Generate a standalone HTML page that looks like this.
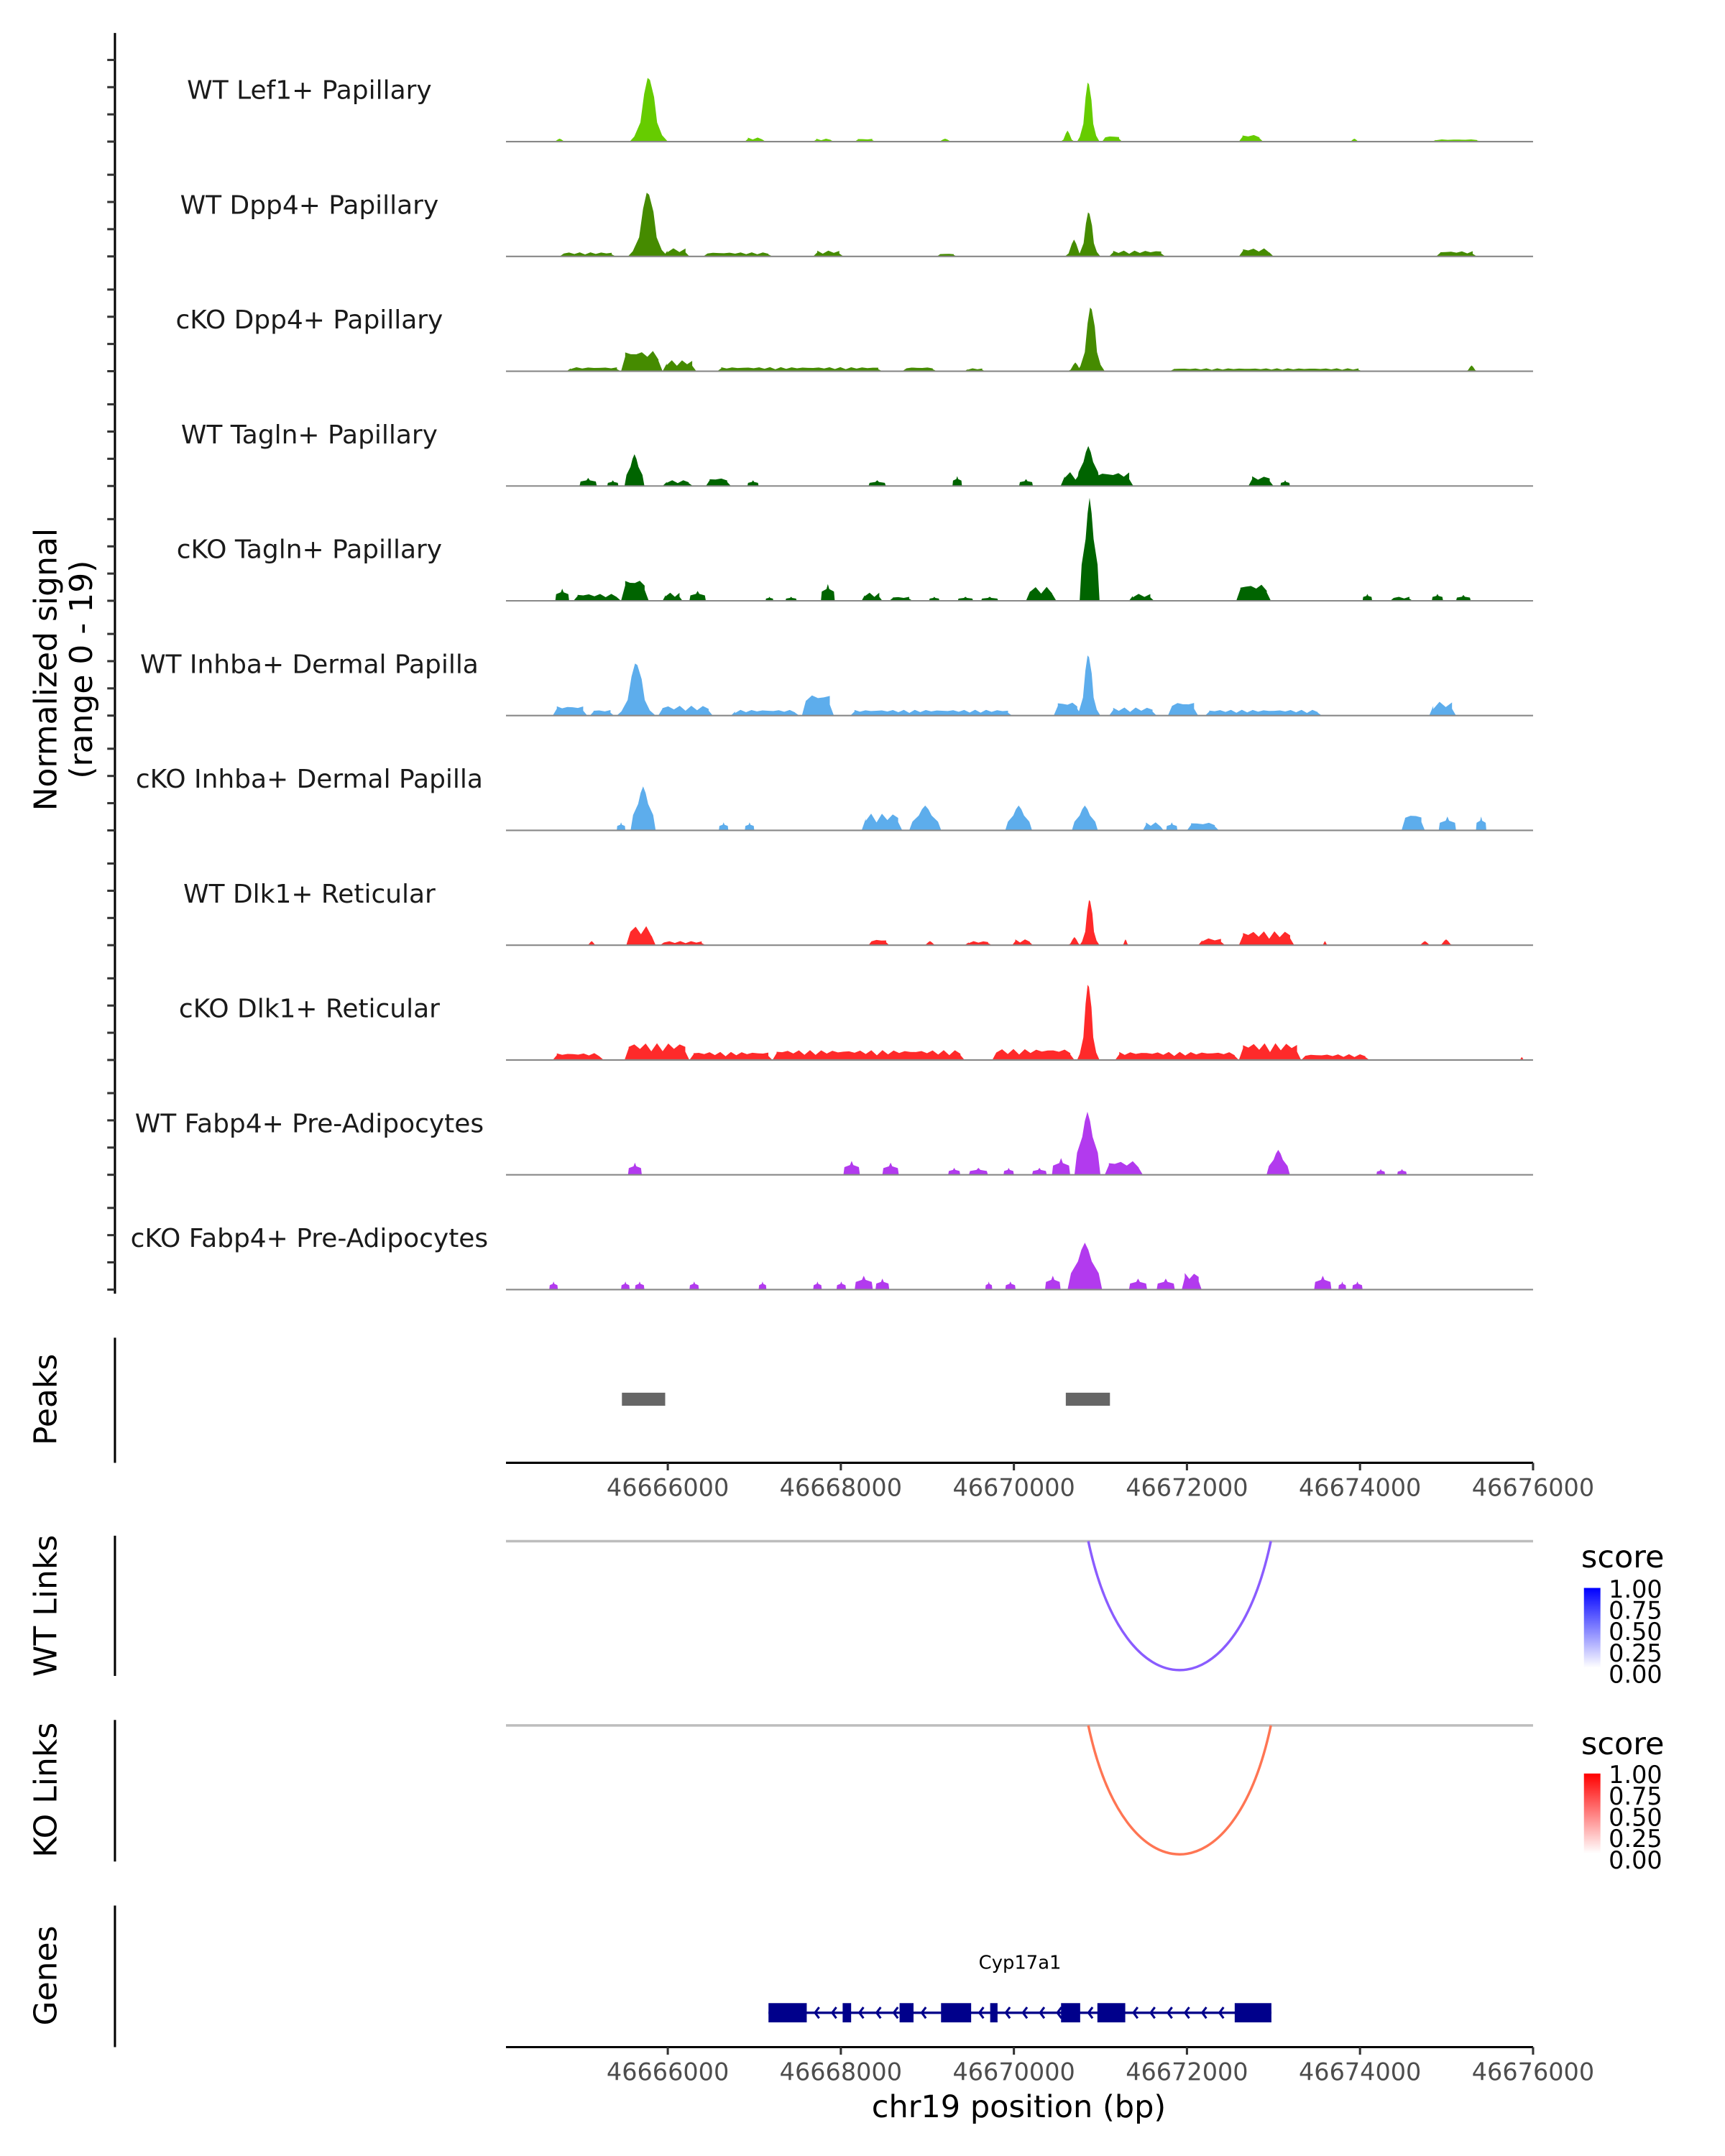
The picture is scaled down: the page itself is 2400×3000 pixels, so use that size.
<!DOCTYPE html>
<html><head><meta charset="utf-8"><style>
html,body{margin:0;padding:0;background:#fff;}
svg{display:block;font-family:"DejaVu Sans","Liberation Sans",sans-serif;}
</style></head><body>
<svg id="chart" xmlns="http://www.w3.org/2000/svg" width="2400" height="3000" viewBox="0 0 1254.6 1568.2" preserveAspectRatio="none">
  <g id="tracks"></g>
  <line x1="83.6" y1="24" x2="83.6" y2="941" stroke="#000" stroke-width="1.6"/>
  <g id="yticks"></g>
  <text transform="translate(41,487) rotate(-90)" text-anchor="middle" font-size="23">Normalized signal</text>
  <text transform="translate(67,487) rotate(-90)" text-anchor="middle" font-size="23">(range 0 - 19)</text>

  <line x1="83.6" y1="973" x2="83.6" y2="1064" stroke="#000" stroke-width="1.6"/>
  <text transform="translate(41,1018) rotate(-90)" text-anchor="middle" font-size="23">Peaks</text>
  <g id="peaks"></g>
  <g id="xaxis1"></g>

  <line x1="83.6" y1="1117" x2="83.6" y2="1219" stroke="#000" stroke-width="1.6"/>
  <text transform="translate(41,1168) rotate(-90)" text-anchor="middle" font-size="23">WT Links</text>
  <g id="wtlinks"></g>

  <line x1="83.6" y1="1251" x2="83.6" y2="1354" stroke="#000" stroke-width="1.6"/>
  <text transform="translate(41,1302) rotate(-90)" text-anchor="middle" font-size="23">KO Links</text>
  <g id="kolinks"></g>

  <defs>
    <linearGradient id="gradBlue" x1="0" y1="1" x2="0" y2="0">
      <stop offset="0" stop-color="#ffffff"/><stop offset="1" stop-color="#0000ff"/>
    </linearGradient>
    <linearGradient id="gradRed" x1="0" y1="1" x2="0" y2="0">
      <stop offset="0" stop-color="#ffffff"/><stop offset="1" stop-color="#ff0000"/>
    </linearGradient>
  </defs>
  <g>
    <text x="1150" y="1140" font-size="22.5">score</text>
    <rect x="1152" y="1155" width="12" height="58" fill="url(#gradBlue)"/>
    <g font-size="17.5">
      <text x="1170" y="1162">1.00</text><text x="1170" y="1177.5">0.75</text><text x="1170" y="1193">0.50</text><text x="1170" y="1208.5">0.25</text><text x="1170" y="1224">0.00</text>
    </g>
  </g>
  <g>
    <text x="1150" y="1276" font-size="22.5">score</text>
    <rect x="1152" y="1290" width="12" height="58" fill="url(#gradRed)"/>
    <g font-size="17.5">
      <text x="1170" y="1297">1.00</text><text x="1170" y="1312.5">0.75</text><text x="1170" y="1328">0.50</text><text x="1170" y="1343.5">0.25</text><text x="1170" y="1359">0.00</text>
    </g>
  </g>

  <line x1="83.6" y1="1386" x2="83.6" y2="1489" stroke="#000" stroke-width="1.6"/>
  <text transform="translate(41,1437) rotate(-90)" text-anchor="middle" font-size="23">Genes</text>
  <g id="genes"></g>
  <g id="xaxis2"></g>
  <text x="741" y="1540" text-anchor="middle" font-size="22.5">chr19 position (bp)</text>
</svg>
<script>
// ---- data (positions in kb, signal 0-19) ----
const trackNames = ["WT Lef1+ Papillary","WT Dpp4+ Papillary","cKO Dpp4+ Papillary","WT Tagln+ Papillary","cKO Tagln+ Papillary","WT Inhba+ Dermal Papilla","cKO Inhba+ Dermal Papilla","WT Dlk1+ Reticular","cKO Dlk1+ Reticular","WT Fabp4+ Pre-Adipocytes","cKO Fabp4+ Pre-Adipocytes"];
const trackColors = ["#66cc00","#458b00","#458b00","#006400","#006400","#5dadec","#5dadec","#ff2a2a","#ff2a2a","#b23aee","#b23aee"];
const trackStyles = ["hump","hump","hump","block","block","hump","block","hump","hump","block","block"];
const sigLef1 = [[46664.67,46664.83,0.5],[46665.56,46666.00,11],[46666.89,46667.13,0.7],[46667.68,46667.92,0.5],[46668.16,46668.40,0.5],[46669.11,46669.30,0.5],[46670.54,46670.70,1.9],[46670.73,46670.99,10.2],[46671.02,46671.25,1],[46672.60,46672.88,1.2],[46673.87,46674.00,0.5],[46674.83,46675.40,0.4]];
const sigDpp4WT = [[46664.75,46665.40,0.7],[46665.54,46666.00,11],[46665.95,46666.25,1.4],[46666.41,46667.21,0.7],[46667.68,46668.03,1],[46669.11,46669.34,0.5],[46670.59,46670.80,2.9],[46670.73,46671.00,7.6],[46671.10,46671.75,1],[46672.60,46673.00,1.4],[46674.88,46675.35,0.9]];
const sigDpp4KO = [[46664.83,46665.46,0.7],[46665.46,46665.94,3.6],[46665.94,46666.33,1.9],[46666.57,46668.48,0.7],[46668.71,46669.11,0.7],[46669.43,46669.67,0.5],[46670.62,46670.80,1.5],[46670.73,46671.05,11],[46671.80,46674.03,0.5],[46675.22,46675.36,1]];
const sigTaglnWT = [[46664.98,46665.18,1.4],[46665.30,46665.43,1],[46665.50,46665.73,5.5],[46665.94,46666.29,1],[46666.44,46666.73,1.4],[46666.92,46667.05,1],[46668.32,46668.52,1],[46669.29,46669.40,1.7],[46670.06,46670.22,1.2],[46670.54,46671.38,2.4],[46670.72,46671.00,6.9],[46672.71,46673.00,1.7],[46673.08,46673.19,1]];
const sigTaglnKO = [[46664.70,46664.86,2.1],[46664.91,46665.46,1.2],[46665.46,46665.78,3.8],[46665.94,46666.17,1.4],[46666.25,46666.44,1.7],[46667.13,46667.22,0.7],[46667.36,46667.49,0.7],[46667.77,46667.93,2.9],[46668.24,46668.48,1.4],[46668.56,46668.83,0.7],[46669.02,46669.14,0.7],[46669.35,46669.53,0.7],[46669.62,46669.82,0.7],[46670.14,46670.49,2.4],[46670.76,46670.99,17.8],[46671.33,46671.62,1.2],[46672.57,46672.97,2.9],[46674.03,46674.14,1.2],[46674.35,46674.61,0.7],[46674.83,46674.96,1.2],[46675.11,46675.28,1]];
const sigInhbaWT = [[46664.67,46665.07,1.7],[46665.10,46665.38,1],[46665.41,46665.86,9],[46665.89,46666.52,1.7],[46666.73,46667.52,1],[46667.55,46667.92,3.8],[46668.11,46669.98,1],[46670.46,46670.78,2.4],[46670.72,46671.00,10.4],[46671.10,46671.65,1.4],[46671.78,46672.13,2.4],[46672.21,46673.56,1],[46674.80,46675.11,2.4]];
const sigInhbaKO = [[46665.41,46665.51,1.4],[46665.57,46665.86,7.6],[46666.59,46666.70,1.4],[46666.89,46667.00,1.4],[46668.24,46668.71,2.9],[46668.79,46669.16,4.3],[46669.90,46670.21,4.3],[46670.67,46670.97,4.3],[46671.49,46671.73,1.4],[46671.76,46671.89,1.4],[46672.00,46672.37,1.4],[46674.48,46674.75,2.9],[46674.91,46675.11,2.4],[46675.34,46675.46,2.4]];
const sigDlk1WT = [[46665.06,46665.18,0.7],[46665.52,46665.86,3.3],[46665.91,46666.44,0.7],[46668.32,46668.56,1],[46668.95,46669.11,0.7],[46669.43,46669.75,0.7],[46669.98,46670.22,1],[46670.62,46670.78,1.4],[46670.76,46670.99,7.8],[46671.25,46671.33,1],[46672.13,46672.44,1.2],[46672.60,46673.24,2.4],[46673.56,46673.63,0.7],[46674.67,46674.83,0.7],[46674.91,46675.08,1]];
const sigDlk1KO = [[46664.67,46665.26,1.2],[46665.50,46666.25,2.9],[46666.25,46667.21,1.4],[46667.21,46669.43,1.7],[46669.75,46670.70,1.9],[46670.73,46670.99,13],[46671.17,46672.60,1.4],[46672.60,46673.32,2.9],[46673.32,46674.11,1],[46675.84,46675.90,0.5]];
const sigFabp4WT = [[46665.54,46665.70,2.1],[46668.03,46668.22,2.4],[46668.48,46668.67,2.1],[46669.24,46669.38,1.2],[46669.48,46669.70,1.2],[46669.88,46670.00,1.2],[46670.21,46670.38,1.2],[46670.44,46670.65,2.9],[46670.70,46671.00,10.9],[46671.05,46671.49,2.4],[46672.92,46673.19,4.3],[46674.19,46674.29,1],[46674.43,46674.54,1]];
const sigFabp4KO = [[46664.63,46664.73,1.4],[46665.46,46665.56,1.4],[46665.62,46665.73,1.4],[46666.25,46666.36,1.4],[46667.05,46667.14,1.4],[46667.68,46667.78,1.4],[46667.95,46668.06,1.4],[46668.16,46668.37,2.4],[46668.40,46668.56,1.9],[46669.67,46669.75,1.4],[46669.90,46670.02,1.4],[46670.36,46670.54,2.4],[46670.62,46671.02,8.1],[46671.33,46671.54,1.9],[46671.65,46671.86,1.9],[46671.94,46672.17,2.9],[46673.47,46673.67,2.4],[46673.75,46673.84,1.4],[46673.91,46674.03,1.4]];
const peakRegions = [[46665.47,46665.97],[46670.60,46671.11]];
const xTickValues = [46666000,46668000,46670000,46672000,46674000,46676000];
const xTickLabels = ["46666000","46668000","46670000","46672000","46674000","46676000"];
const wtLinks = [[46670.86,46672.97,0.6]];
const koLinks = [[46670.86,46672.97,0.6]];
const geneExons = [[46667.164,46667.606],[46668.021,46668.119],[46668.679,46668.840],[46669.158,46669.506],[46669.726,46669.811],[46670.545,46670.766],[46670.965,46671.287],[46672.552,46672.976]];
const geneName = "Cyp17a1";

const signals = [sigLef1,sigDpp4WT,sigDpp4KO,sigTaglnWT,sigTaglnKO,sigInhbaWT,sigInhbaKO,sigDlk1WT,sigDlk1KO,sigFabp4WT,sigFabp4KO];

// ---- scales ----
const NS = "http://www.w3.org/2000/svg";
const X0 = 368, X1 = 1115, KB0 = 46664.130, KB1 = 46676.000;
function xs(kb){ return X0 + (kb-KB0)/(KB1-KB0)*(X1-X0); }
function ys(v){ return v*80/19; }
const baseY0 = 103, trackStep = 83.5;
function mk(tag, attrs, parent){ const e=document.createElementNS(NS,tag); for(const k in attrs) e.setAttribute(k,attrs[k]); parent.appendChild(e); return e; }

function shapePoints(s, e, h, v, style){
  const w = e - s;
  if (v >= 4 && style === 'hump') {
    return [[s,0],[s+w*0.12,h*0.08],[s+w*0.28,h*0.3],[s+w*0.38,h*0.75],[s+w*0.47,h],[s+w*0.53,h*0.97],[s+w*0.64,h*0.7],[s+w*0.72,h*0.3],[s+w*0.85,h*0.1],[e,0]];
  }
  if (v >= 4) {
    return [[s,0],[s+w*0.1,h*0.35],[s+w*0.3,h*0.6],[s+w*0.4,h*0.85],[s+w*0.5,h],[s+w*0.6,h*0.85],[s+w*0.7,h*0.6],[s+w*0.9,h*0.35],[e,0]];
  }
  if (w <= 14) {
    if (style === 'hump') return [[s,0],[s+w*0.2,h*0.18],[s+w*0.38,h*0.75],[s+w*0.5,h],[s+w*0.62,h*0.75],[s+w*0.8,h*0.18],[e,0]];
    return [[s,0],[s+w*0.06,h*0.55],[s+w*0.4,h*0.7],[s+w*0.5,h],[s+w*0.6,h*0.7],[s+w*0.94,h*0.55],[e,0]];
  }
  // wide low feature: steep sides, jagged plateau
  const r = Math.min(3, w*0.15);
  const pts = [[s,0],[s+r,h*0.7]];
  const n = Math.max(3, Math.round((w-2*r)/4));
  for (let k=0;k<=n;k++){
    const x = s + r + (w-2*r)*k/n;
    const f = 0.45 + 0.55*Math.abs(Math.sin(k*1.7 + s*0.13));
    pts.push([x, h*f]);
  }
  pts.push([e-r, h*0.5],[e,0]);
  return pts;
}

const gT = document.getElementById('tracks');
const gY = document.getElementById('yticks');
signals.forEach((sig,i)=>{
  const base = baseY0 + i*trackStep;
  const g = mk('g',{},gT);
  
  
  const lbl = mk('text',{x:225,y:base-31,'text-anchor':'middle','font-size':18.8,fill:'#1a1a1a'},g);
  lbl.textContent = trackNames[i];
  
  
  sig.forEach(f=>{
    const s=xs(f[0]), e=xs(f[1]), h=ys(f[2]);
    const pts = shapePoints(s, e, h, f[2], trackStyles[i]);
    const p = mk('polygon',{points:pts.map(q=>q[0].toFixed(2)+','+(base-q[1]).toFixed(2)).join(' '),fill:trackColors[i]},g);
    
    
  });
  const bl = mk('line',{x1:X0,y1:base,x2:X1,y2:base,stroke:'#888',"stroke-width":1.1},g);
  
  
  for(let k=0;k<4;k++){
    const t = mk('line',{x1:78,y1:base-k*19.8,x2:83.6,y2:base-k*19.8,stroke:'#333',"stroke-width":1.6},gY);
    
    
  }
});

// peaks
const gP = document.getElementById('peaks');
peakRegions.forEach(r=>{
  const rc = mk('rect',{x:xs(r[0]),y:1013,width:xs(r[1])-xs(r[0]),height:9.5,fill:'#666'},gP);
  
  
});

// x axes
function xAxis(id, y){
  const g=document.getElementById(id);
  const l = mk('line',{x1:X0,y1:y,x2:X1,y2:y,stroke:'#000',"stroke-width":1.6},g);
  
  
  xTickValues.forEach((v,j)=>{
    const x=xs(v/1000);
    const t = mk('line',{x1:x,y1:y,x2:x,y2:y+5.5,stroke:'#333',"stroke-width":1.6},g);
    
    
    const tx = mk('text',{x:x,y:y+24,'text-anchor':'middle','font-size':17.5,fill:'#4d4d4d'},g);
    tx.textContent = xTickLabels[j];
    
    
  });
}
xAxis('xaxis1',1064);
xAxis('xaxis2',1489);

// links
function links(id, data, top, depth, color){
  const g=document.getElementById(id);
  const bl = mk('line',{x1:X0,y1:top,x2:X1,y2:top,stroke:'#bdbdbd',"stroke-width":1.8},g);
  
  
  data.forEach(d=>{
    const a=xs(d[0]), b=xs(d[1]);
    const pth = mk('path',{d:`M${a},${top} C${a+(b-a)*0.2},${top+depth*1.33} ${b-(b-a)*0.2},${top+depth*1.33} ${b},${top}`,fill:'none',stroke:color,"stroke-width":1.8},g);
    
    
  });
}
links('wtlinks', wtLinks, 1121, 94, '#8a5cff');
links('kolinks', koLinks, 1255, 94, '#ff7553');

// gene
const gG = document.getElementById('genes');
const gy = 1464;
const gs = xs(geneExons[0][0]), ge = xs(geneExons[geneExons.length-1][1]);
const gl = mk('line',{x1:gs,y1:gy,x2:ge,y2:gy,stroke:'#00008b',"stroke-width":1.8},gG);


for(let j=0;j<geneExons.length-1;j++){
  const a=xs(geneExons[j][1]), b=xs(geneExons[j+1][0]);
  for(let x=a+6; x<b-2; x+=12.5){
    const ch = mk('path',{d:`M${x+3},${gy-4} L${x},${gy} L${x+3},${gy+4}`,fill:'none',stroke:'#00008b',"stroke-width":1.6},gG);
    
    
  }
}
geneExons.forEach(ex=>{
  const r = mk('rect',{x:xs(ex[0]),y:gy-7,width:xs(ex[1])-xs(ex[0]),height:14,fill:'#00008b'},gG);
  
  
});
const gn = mk('text',{x:(gs+ge)/2,y:1432,'text-anchor':'middle','font-size':13.5,fill:'#000'},gG);
gn.textContent = geneName;


</script>
</body></html>
